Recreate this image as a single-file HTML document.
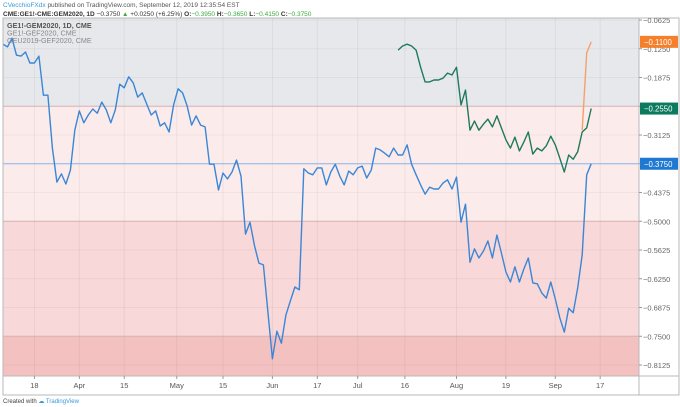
<!DOCTYPE html>
<html><head><meta charset="utf-8"><style>
body{margin:0;background:#fff;font-family:"Liberation Sans",sans-serif;}
#wrap{position:relative;width:680px;height:407px;overflow:hidden;}
</style></head><body>
<div id="wrap">
<svg id="chart" width="680" height="407" xmlns="http://www.w3.org/2000/svg"></svg>
</div>
<script>
const blueValues=[-0.115,-0.121,-0.102,-0.139,-0.141,-0.132,-0.156,-0.156,-0.141,-0.226,-0.226,-0.341,-0.415,-0.397,-0.419,-0.389,-0.302,-0.260,-0.286,-0.269,-0.256,-0.265,-0.241,-0.258,-0.286,-0.258,-0.202,-0.210,-0.186,-0.199,-0.230,-0.221,-0.245,-0.269,-0.260,-0.293,-0.286,-0.306,-0.247,-0.212,-0.221,-0.249,-0.291,-0.271,-0.291,-0.295,-0.376,-0.376,-0.432,
-0.395,-0.408,-0.393,-0.367,-0.402,-0.528,-0.502,-0.552,-0.591,-0.595,-0.697,-0.799,-0.739,-0.765,-0.704,-0.673,-0.643,-0.649,-0.386,-0.395,-0.399,-0.384,-0.384,-0.421,-0.393,-0.376,-0.402,-0.421,-0.391,-0.399,-0.384,-0.380,-0.406,-0.389,-0.341,-0.345,-0.352,-0.360,-0.341,-0.356,-0.356,-0.334,-0.376,
-0.399,-0.421,-0.441,-0.426,-0.430,-0.430,-0.417,-0.410,-0.430,-0.404,-0.502,-0.463,-0.589,-0.560,-0.580,-0.565,-0.543,-0.580,-0.530,-0.569,-0.610,-0.632,-0.599,-0.632,-0.604,-0.580,-0.634,-0.636,-0.656,-0.667,-0.632,-0.669,-0.710,-0.741,-0.689,-0.699,-0.645,-0.573,-0.399,-0.375];
const greenStart=88;
const greenValues=[-0.128,-0.119,-0.115,-0.119,-0.128,-0.165,-0.197,-0.197,-0.193,-0.193,-0.189,-0.178,-0.182,-0.165,-0.247,-0.215,-0.302,-0.282,-0.302,-0.289,-0.278,-0.295,-0.271,-0.297,-0.323,-0.341,-0.317,-0.347,-0.328,-0.306,-0.354,-0.341,-0.347,-0.336,-0.315,-0.334,-0.363,-0.393,-0.356,-0.365,-0.349,-0.306,-0.297,-0.255];
const orangeStart=129;
const orangeValues=[-0.302,-0.134,-0.110];
const yTicks=[-0.0625,-0.125,-0.1875,-0.25,-0.3125,-0.375,-0.4375,-0.5,-0.5625,-0.625,-0.6875,-0.75,-0.8125];
const yTickLabels=["−0.0625","−0.1250","−0.1875","","−0.3125","","−0.4375","−0.5000","−0.5625","−0.6250","−0.6875","−0.7500","−0.8125"];
const xTickIdx=[7,17,27,38.7,49,60,70,79,89.5,101,112,123,133];
const xTickLabels=["18","Apr","15","May","15","Jun","17","Jul","16","Aug","19","Sep","17"];
const bandEdges=[-0.0,-0.25,-0.5,-0.75,-0.9];
const bandColors=["#e7e8ec","#fbebeb","#f8d8d8","#f4c1c1"];
const lastValues=[-0.11,-0.255,-0.375];
const lastColors=["#f57f2a","#0c7a5f","#1f78d1"];

const NS="http://www.w3.org/2000/svg";
const svg=document.getElementById('chart');
const L=3,R=639,T=18,B=376;
function y(v){return 20+(-0.0625-v)/0.0625*28.75;}
function x(i){return 3+i*4.49;}
function mk(t,a,p){const e=document.createElementNS(NS,t);for(const k in a)e.setAttribute(k,a[k]);(p||svg).appendChild(e);return e;}
const plot=mk('g',{});
mk('clipPath',{id:'cp'}).appendChild(document.createElementNS(NS,'rect'));
const cr=svg.querySelector('#cp rect');cr.setAttribute('x',L);cr.setAttribute('y',T);cr.setAttribute('width',R-L);cr.setAttribute('height',B-T);
const g=mk('g',{'clip-path':'url(#cp)'},plot);
for(let i=0;i<bandColors.length;i++){
 const top=Math.max(T,y(bandEdges[i]));const bot=Math.min(B,y(bandEdges[i+1]));
 const r=mk('rect',{x:L,y:top,width:R-L,height:bot-top,fill:bandColors[i]},g);
 
 
}
yTicks.forEach(v=>{mk('line',{x1:L,x2:R,y1:y(v),y2:y(v),stroke:'rgba(0,0,0,0.04)'},g);});
xTickIdx.forEach(i=>{mk('line',{x1:x(i),x2:x(i),y1:T,y2:B,stroke:'rgba(0,0,0,0.05)'},g);});
[-0.25,-0.5,-0.75].forEach(v=>{mk('line',{x1:L,x2:R,y1:y(v),y2:y(v),stroke:'#d9b3b3','stroke-width':1},g);});
const hl=mk('line',{x1:L,x2:R,y1:y(-0.375),y2:y(-0.375),stroke:'#8ab6e8','stroke-width':1},g);


function series(vals,start,color,name){
 const p=mk('polyline',{points:vals.map((v,k)=>x(start+k).toFixed(1)+','+y(v).toFixed(1)).join(' '),fill:'none',stroke:color,'stroke-width':1.4,'stroke-linejoin':'round'},g);
 
 
}
series(orangeValues,orangeStart,'#f5a06a','series-geu2019-gef2020');
series(greenValues,greenStart,'#1e7a5a','series-ge1-gef2020');
series(blueValues,0,'#3b86d6','series-ge1-gem2020');
mk('rect',{x:L,y:T,width:R-L,height:B-T,fill:'none',stroke:'#b8b8b8'},plot);
// legend
["GE1!-GEM2020, 1D, CME","GE1!-GEF2020, CME","GEU2019-GEF2020, CME"].forEach((t,i)=>{
 const e=mk('text',{x:7,y:28+i*7.5,'font-size':7.2,fill:i==0?'#555':'#888','font-weight':i==0?'bold':'normal'});e.textContent=t;
 
 
});
// y axis
const ya=mk('g',{});
mk('rect',{x:R,y:T,width:40,height:B-T,fill:'none',stroke:'#b8b8b8'},ya);
yTicks.forEach((v,k)=>{
 mk('line',{x1:R,x2:R+3,y1:y(v),y2:y(v),stroke:'#999'},ya);
 if(!yTickLabels[k])return;
 const t=mk('text',{x:R+4,y:y(v)+3,'font-size':7.5,fill:'#666'},ya);t.textContent=yTickLabels[k];
 
 
});
lastValues.forEach((v,k)=>{
 const gg=mk('g',{},ya);
 
 
 mk('rect',{x:R+1,y:y(v)-6,width:38,height:12,fill:lastColors[k]},gg);
 const t=mk('text',{x:R+5,y:y(v)+3,'font-size':7.8,fill:'#fff'},gg);t.textContent='−'+Math.abs(v).toFixed(4).slice(0);
});
// x axis
const xa=mk('g',{});
mk('rect',{x:L,y:B,width:R-L,height:19,fill:'none',stroke:'#b8b8b8'},xa);
mk('rect',{x:R,y:B,width:40,height:19,fill:'none',stroke:'#b8b8b8'},xa);
xTickIdx.forEach((i,k)=>{
 mk('line',{x1:x(i),x2:x(i),y1:B,y2:B+3,stroke:'#999'},xa);
 const t=mk('text',{x:x(i),y:B+12,'font-size':7.5,fill:'#555','text-anchor':'middle'},xa);t.textContent=xTickLabels[k];
 
 
});
// header
const h1=mk('text',{x:3,y:7,'font-size':6.5,fill:'#555'});


h1.innerHTML='<tspan fill="#3a9ad9">CVecchioFXdx</tspan> published on TradingView.com, September 12, 2019 12:35:54 EST';
const h2=mk('text',{x:3,y:16,'font-size':6.5,fill:'#333'});


h2.innerHTML='<tspan font-weight="bold">CME:GE1!-CME:GEM2020, 1D</tspan> −0.3750 <tspan fill="#3caa3c">▲</tspan> +0.0250 (+6.25%) <tspan font-weight="bold">O:</tspan><tspan fill="#3caa3c">−0.3950</tspan> <tspan font-weight="bold">H:</tspan><tspan fill="#3caa3c">−0.3650</tspan> <tspan font-weight="bold">L:</tspan><tspan fill="#3caa3c">−0.4150</tspan> <tspan font-weight="bold">C:</tspan><tspan fill="#3caa3c">−0.3750</tspan>';
const f=mk('text',{x:3,y:403,'font-size':6,fill:'#444'});


f.innerHTML='Created with <tspan fill="#3a9ad9">☁ TradingView</tspan>';
</script>
</body></html>
